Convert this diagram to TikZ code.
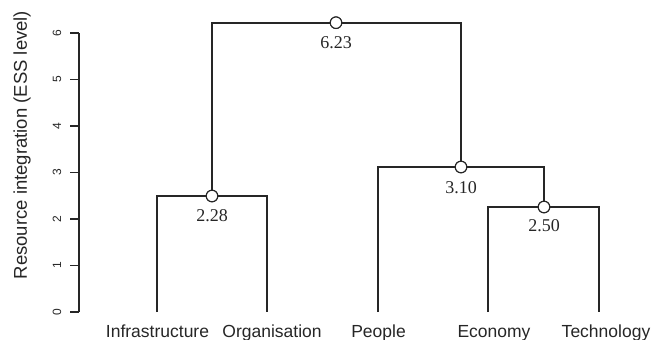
\documentclass[tikz,border=0pt]{standalone}
\usepackage{fontspec}
\setmainfont{Liberation Serif}
\newfontfamily\arialf{Liberation Sans}
\definecolor{ink}{HTML}{262626}
\begin{document}
\begin{tikzpicture}[x=1pt,y=-1pt,
  link/.style={draw=ink,line width=1.7pt},
  junc/.style={circle,draw=ink,fill=white,line width=1.1pt,inner sep=0pt,minimum size=11.5pt},
  hval/.style={font=\fontsize{18}{20}\selectfont,text=ink,inner sep=0pt},
  leaflab/.style={font=\arialf\fontsize{17.5}{20}\selectfont,text=ink,anchor=base,inner sep=0pt},
  ticklab/.style={font=\arialf\fontsize{12}{14}\selectfont,text=ink,rotate=90,inner sep=0pt},
  axline/.style={draw=ink,line width=1.3pt}]
\useasboundingbox (0,0) rectangle (651,340);
% axis
\draw[axline] (79,33) -- (79,312);
\foreach \v in {0,...,6}{
  \pgfmathsetmacro{\yy}{312-46.5*\v}
  \draw[axline] (70,\yy) -- (79,\yy);
  \node[ticklab] (t\v) at (57,\yy) {\v};
}
\node[font=\arialf\fontsize{18.5}{20}\selectfont,text=ink,rotate=90,inner sep=0pt] (ylab) at (22,145) {Resource integration (ESS level)};
% leaves
\coordinate (L1) at (157,312);
\coordinate (L2) at (267,312);
\coordinate (L3) at (378,312);
\coordinate (L4) at (488,312);
\coordinate (L5) at (599,312);
% junctions
\node[junc] (J0) at (336,22.7) {};
\node[junc] (J1) at (212,196) {};
\node[junc] (J2) at (461,167) {};
\node[junc] (J3) at (544,207) {};
% links
\draw[link] (L1) |- (J1);
\draw[link] (J1) -| (L2);
\draw[link] (J1) |- (J0);
\draw[link] (J0) -| (J2);
\draw[link] (L3) |- (J2);
\draw[link] (J2) -| (J3);
\draw[link] (L4) |- (J3);
\draw[link] (J3) -| (L5);
% junction redraw on top
\node[junc] at (J0) {};
\node[junc] at (J1) {};
\node[junc] at (J2) {};
\node[junc] at (J3) {};
% height labels
\node[hval] (v0) at (336,43) {6.23};
\node[hval] (v1) at (212,216) {2.28};
\node[hval] (v2) at (461,188) {3.10};
\node[hval] (v3) at (544,226) {2.50};
% leaf labels
\node[leaflab] (n1) at (157.5,337) {Infrastructure};
\node[leaflab] (n2) at (272,337) {Organisation};
\node[leaflab] (n3) at (378.5,337) {People};
\node[leaflab] (n4) at (494,337) {Economy};
\node[leaflab] (n5) at (606,337) {Technology};
\end{tikzpicture}
\end{document}
